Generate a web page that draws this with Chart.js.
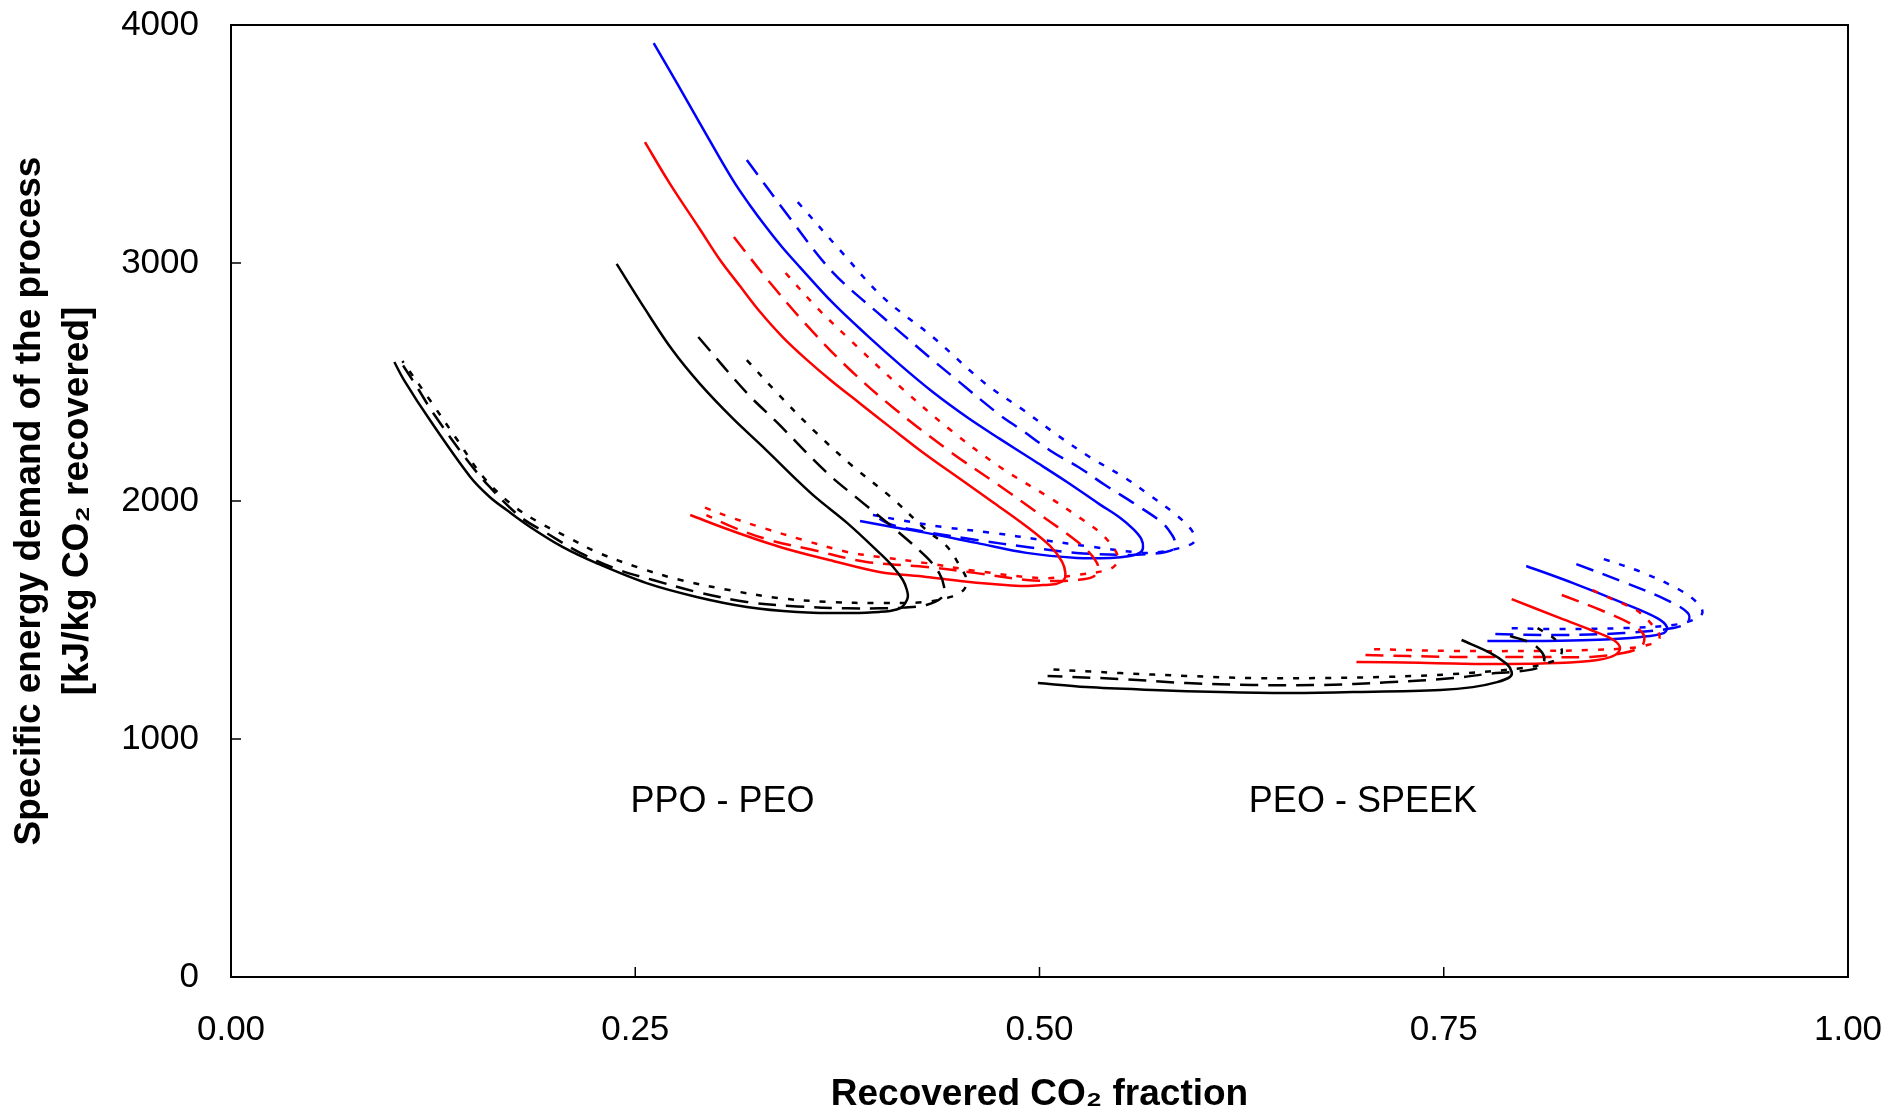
<!DOCTYPE html>
<html>
<head>
<meta charset="utf-8">
<script src="https://cdn.jsdelivr.net/npm/chart.js@4.4.0/dist/chart.umd.min.js"></script>
<style>
  html, body { margin: 0; padding: 0; background: #fff; }
  canvas { display: block; }
</style>
</head>
<body>
<canvas id="grafico" width="1891" height="1117"></canvas>
<script>
// ---- eixos -------------------------------------------------------------
const ticksX = [0, 0.25, 0.5, 0.75, 1];
const rotulosX = ['0.00', '0.25', '0.50', '0.75', '1.00'];
const ticksY = [0, 1000, 2000, 3000, 4000];
const rotulosY = ['0', '1000', '2000', '3000', '4000'];

// ---- curvas PPO - PEO (x = fração de CO2 recuperada, y = kJ/kg CO2) ----
const ppoPretoCheio = [[0.2385,2996],[0.256,2807],[0.273,2634],[0.290,2492],[0.310,2349],[0.331,2214],[0.350,2088],[0.362,2013],[0.381,1908],[0.401,1782],[0.409,1727],[0.4155,1668],[0.418,1626],[0.4186,1597],[0.417,1571],[0.414,1550],[0.4075,1538],[0.401,1534],[0.381,1529],[0.350,1534],[0.319,1555],[0.288,1597],[0.257,1655],[0.226,1739],[0.205,1807],[0.185,1891],[0.1705,1962],[0.160,2017],[0.148,2101],[0.123,2340],[0.107,2508],[0.101,2584]];
const ppoPretoTrac = [[0.289,2689],[0.319,2454],[0.338,2328],[0.368,2122],[0.387,2013],[0.409,1891],[0.430,1765],[0.438,1697],[0.441,1639],[0.440,1597],[0.430,1563],[0.416,1552],[0.401,1549],[0.381,1549],[0.350,1557],[0.319,1576],[0.288,1618],[0.261,1668],[0.240,1710],[0.216,1782],[0.195,1866],[0.179,1933],[0.160,2059],[0.146,2172],[0.125,2370],[0.115,2479],[0.105,2584]];
const ppoPretoPont = [[0.319,2592],[0.339,2445],[0.362,2286],[0.385,2143],[0.408,2017],[0.430,1878],[0.443,1807],[0.451,1723],[0.455,1668],[0.453,1626],[0.445,1597],[0.430,1576],[0.401,1571],[0.370,1576],[0.339,1592],[0.308,1626],[0.278,1668],[0.253,1718],[0.226,1786],[0.208,1849],[0.191,1908],[0.174,1983],[0.156,2101],[0.140,2256],[0.123,2424],[0.106,2588]];

const ppoVermCheio = [[0.256,3508],[0.271,3338],[0.290,3142],[0.302,3017],[0.315,2901],[0.327,2796],[0.341,2690],[0.356,2594],[0.372,2501],[0.389,2410],[0.409,2303],[0.430,2193],[0.451,2092],[0.471,1996],[0.492,1893],[0.5065,1811],[0.514,1744],[0.516,1697],[0.515,1668],[0.510,1651],[0.502,1647],[0.488,1643],[0.471,1651],[0.451,1664],[0.430,1681],[0.401,1702],[0.370,1752],[0.3395,1807],[0.3085,1878],[0.284,1941]];
const ppoVermTrac = [[0.311,3109],[0.333,2920],[0.356,2739],[0.381,2563],[0.409,2395],[0.445,2206],[0.4755,2063],[0.498,1954],[0.518,1857],[0.530,1790],[0.5356,1739],[0.536,1710],[0.533,1681],[0.523,1668],[0.5065,1664],[0.492,1668],[0.461,1697],[0.430,1723],[0.393,1744],[0.360,1794],[0.333,1836],[0.310,1891],[0.294,1941]];
const ppoVermPont = [[0.343,2958],[0.362,2815],[0.383,2676],[0.414,2479],[0.445,2298],[0.4755,2143],[0.5065,2013],[0.525,1929],[0.537,1870],[0.545,1811],[0.5485,1765],[0.547,1731],[0.542,1710],[0.523,1689],[0.502,1676],[0.461,1706],[0.430,1739],[0.401,1765],[0.381,1786],[0.354,1836],[0.329,1887],[0.310,1929],[0.292,1975]];

const ppoAzulCheio = [[0.2614,3924],[0.2758,3756],[0.2899,3588],[0.3103,3349],[0.3208,3244],[0.3314,3147],[0.3413,3063],[0.3518,2983],[0.3722,2832],[0.3932,2697],[0.414,2571],[0.434,2458],[0.455,2353],[0.4755,2261],[0.496,2172],[0.517,2080],[0.537,1987],[0.550,1929],[0.558,1882],[0.563,1840],[0.564,1803],[0.562,1782],[0.556,1769],[0.544,1761],[0.523,1761],[0.492,1782],[0.461,1824],[0.430,1866],[0.409,1891],[0.389,1916]];
const ppoAzulTrac = [[0.319,3433],[0.3456,3189],[0.372,2962],[0.403,2773],[0.434,2592],[0.449,2508],[0.4755,2361],[0.489,2298],[0.508,2206],[0.524,2143],[0.5405,2067],[0.560,1983],[0.576,1908],[0.582,1857],[0.584,1824],[0.583,1798],[0.578,1786],[0.568,1777],[0.554,1773],[0.523,1782],[0.492,1807],[0.461,1836],[0.430,1870],[0.409,1899],[0.398,1937]];
const ppoAzulPont = [[0.3505,3256],[0.3765,3055],[0.403,2857],[0.434,2689],[0.466,2496],[0.490,2382],[0.511,2277],[0.531,2185],[0.553,2097],[0.568,2025],[0.583,1950],[0.593,1887],[0.596,1849],[0.595,1824],[0.587,1803],[0.5745,1786],[0.564,1782],[0.533,1807],[0.502,1836],[0.471,1866],[0.440,1891],[0.414,1920],[0.397,1941]];

// ---- curvas PEO - SPEEK ------------------------------------------------
const speekPretoCheio = [[0.761,1416],[0.779,1361],[0.789,1315],[0.792,1282],[0.791,1261],[0.783,1239],[0.768,1218],[0.748,1206],[0.694,1197],[0.653,1193],[0.612,1197],[0.570,1206],[0.529,1218],[0.499,1235]];
const speekPretoTrac = [[0.791,1433],[0.804,1403],[0.811,1361],[0.812,1324],[0.808,1298],[0.793,1282],[0.779,1275],[0.756,1256],[0.715,1238],[0.674,1227],[0.632,1227],[0.591,1235],[0.550,1252],[0.505,1265]];
const speekPretoPont = [[0.808,1466],[0.818,1424],[0.823,1374],[0.821,1340],[0.814,1319],[0.799,1298],[0.756,1273],[0.715,1261],[0.674,1256],[0.632,1256],[0.591,1265],[0.550,1277],[0.503,1294]];

const speekVermCheio = [[0.792,1588],[0.820,1513],[0.841,1458],[0.855,1416],[0.859,1382],[0.856,1353],[0.845,1332],[0.820,1319],[0.789,1315],[0.756,1317],[0.735,1320],[0.696,1324]];
const speekVermTrac = [[0.823,1605],[0.847,1542],[0.865,1487],[0.873,1445],[0.874,1416],[0.872,1387],[0.861,1361],[0.841,1345],[0.810,1345],[0.756,1345],[0.700,1353]];
const speekVermPont = [[0.842,1626],[0.851,1597],[0.860,1571],[0.869,1542],[0.875,1508],[0.880,1471],[0.883,1445],[0.883,1416],[0.876,1395],[0.865,1382],[0.841,1374],[0.810,1370],[0.756,1370],[0.703,1378]];

const speekAzulCheio = [[0.801,1727],[0.830,1655],[0.861,1571],[0.882,1508],[0.888,1471],[0.886,1445],[0.872,1429],[0.841,1416],[0.810,1412],[0.777,1412]];
const speekAzulTrac = [[0.832,1735],[0.861,1660],[0.888,1584],[0.901,1529],[0.901,1492],[0.892,1466],[0.861,1445],[0.820,1437],[0.781,1441]];
const speekAzulPont = [[0.849,1756],[0.872,1702],[0.896,1626],[0.907,1571],[0.910,1534],[0.907,1508],[0.892,1479],[0.861,1466],[0.820,1462],[0.788,1466]];

// rótulos dentro do gráfico (em coordenadas dos dados)
const rotulosMembrana = [
  { texto: 'PPO - PEO', x: 0.304, y: 737 },
  { texto: 'PEO - SPEEK', x: 0.700, y: 737 }
];

// ---- estilos ------------------------------------------------------------
const FONTE = '"Liberation Sans", Arial, Helvetica, sans-serif';
const TRACOS = { cheio: [], trac: [18, 10], pont: [6, 10] };

const series = [
  [ppoPretoCheio, '#000000', 'cheio'], [ppoPretoTrac, '#000000', 'trac'], [ppoPretoPont, '#000000', 'pont'],
  [ppoVermCheio, '#ff0000', 'cheio'], [ppoVermTrac, '#ff0000', 'trac'], [ppoVermPont, '#ff0000', 'pont'],
  [ppoAzulCheio, '#0000ff', 'cheio'], [ppoAzulTrac, '#0000ff', 'trac'], [ppoAzulPont, '#0000ff', 'pont'],
  [speekPretoCheio, '#000000', 'cheio'], [speekPretoTrac, '#000000', 'trac'], [speekPretoPont, '#000000', 'pont'],
  [speekVermCheio, '#ff0000', 'cheio'], [speekVermTrac, '#ff0000', 'trac'], [speekVermPont, '#ff0000', 'pont'],
  [speekAzulCheio, '#0000ff', 'cheio'], [speekAzulTrac, '#0000ff', 'trac'], [speekAzulPont, '#0000ff', 'pont']
];

const datasets = series.map(([pontos, cor, traco]) => ({
  data: pontos.map(([x, y]) => ({ x, y })),
  showLine: true,
  borderColor: cor,
  backgroundColor: cor,
  borderWidth: 2.5,
  borderDash: TRACOS[traco],
  pointRadius: 0,
  tension: 0.35,
  fill: false
}));

// moldura, marcas internas dos eixos e rótulos das membranas
const moldura = {
  id: 'moldura',
  afterDatasetsDraw(chart) {
    const { ctx, chartArea: a, scales: { x, y } } = chart;
    ctx.save();
    ctx.strokeStyle = '#000';
    ctx.lineWidth = 1.5;
    ctx.beginPath();
    ticksX.slice(1, -1).forEach(v => {
      const px = x.getPixelForValue(v);
      ctx.moveTo(px, a.bottom);
      ctx.lineTo(px, a.bottom - 10);
    });
    ticksY.slice(1, -1).forEach(v => {
      const py = y.getPixelForValue(v);
      ctx.moveTo(a.left, py);
      ctx.lineTo(a.left + 10, py);
    });
    ctx.stroke();

    ctx.lineWidth = 2;
    ctx.strokeRect(a.left, a.top, a.right - a.left, a.bottom - a.top);

    ctx.fillStyle = '#000';
    ctx.font = '36px ' + FONTE;
    ctx.textAlign = 'center';
    ctx.textBaseline = 'middle';
    rotulosMembrana.forEach(r => {
      ctx.fillText(r.texto, x.getPixelForValue(r.x), y.getPixelForValue(r.y));
    });
    ctx.restore();
  }
};

new Chart(document.getElementById('grafico'), {
  type: 'scatter',
  data: { datasets },
  plugins: [moldura],
  options: {
    responsive: false,
    animation: false,
    devicePixelRatio: 1,
    layout: { padding: { top: 25, right: 43, left: 0, bottom: 0 } },
    plugins: { legend: { display: false }, tooltip: { enabled: false } },
    scales: {
      x: {
        type: 'linear',
        min: 0, max: 1,
        afterFit: (escala) => {
          escala.height = 140;
          escala.paddingLeft = 0;
          escala.paddingRight = 0;
        },
        afterBuildTicks: (escala) => { escala.ticks = ticksX.map(v => ({ value: v })); },
        ticks: {
          padding: 32,
          color: '#000',
          font: { family: FONTE, size: 35 },
          maxRotation: 0,
          callback: (v, i) => rotulosX[i]
        },
        grid: { display: false, drawTicks: false },
        border: { display: false },
        title: {
          display: true,
          text: 'Recovered CO₂ fraction',
          color: '#000',
          font: { family: FONTE, size: 37, weight: 'bold' },
          padding: { top: 0, bottom: 0 }
        }
      },
      y: {
        type: 'linear',
        min: 0, max: 4000,
        afterFit: (escala) => {
          escala.width = 231;
          escala.paddingTop = 0;
          escala.paddingBottom = 0;
        },
        afterBuildTicks: (escala) => { escala.ticks = ticksY.map(v => ({ value: v })); },
        ticks: {
          padding: 32,
          color: '#000',
          font: { family: FONTE, size: 35 },
          callback: (v, i) => rotulosY[i]
        },
        grid: { display: false, drawTicks: false },
        border: { display: false },
        title: {
          display: true,
          text: ['Specific energy demand of the process', '[kJ/kg CO₂ recovered]'],
          color: '#000',
          font: { family: FONTE, size: 37, weight: 'bold', lineHeight: 1.3 },
          padding: { top: 6, bottom: 0 }
        }
      }
    }
  }
});
</script>
</body>
</html>
